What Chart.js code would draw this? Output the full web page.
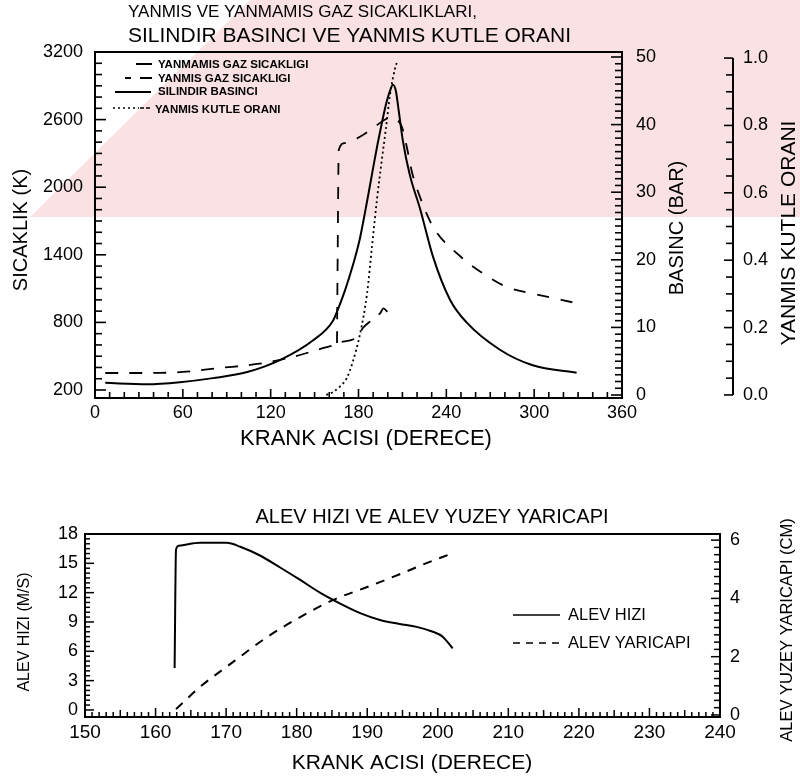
<!DOCTYPE html>
<html><head><meta charset="utf-8">
<script src="https://cdn.jsdelivr.net/npm/chart.js@4/dist/chart.umd.min.js"></script>
<style>
html,body{margin:0;padding:0;background:#fff;}
#top{position:absolute;left:0;top:0;width:800px;height:460px;}
#bot{position:absolute;left:0;top:460px;width:800px;height:321px;}
</style></head><body>
<div id="top"><canvas id="c1"></canvas></div>
<div id="bot"><canvas id="c2"></canvas></div>
<script>
// ---------- DATA (top chart) ----------
const crankUnburned = [7, 35.5, 60, 85, 111, 135, 156, 163, 165.3, 179, 183, 189, 195, 197, 200];
const tempUnburned  = [351, 351, 360, 395, 431, 493, 573, 599, 617, 670, 750, 820, 885, 925, 890];

const crankBurned = [165.3, 165.8, 166.5, 170.8, 183, 192.6, 201.5, 206, 209.7, 213, 216.5, 222, 231, 249.3, 267.7, 281.4, 300.5, 328.5];
const tempBurned  = [617, 1440, 2330, 2392, 2463, 2552, 2614, 2600, 2534, 2357, 2135, 1913, 1647, 1389, 1212, 1114, 1052, 972];

const crankPressure = [7, 35.5, 58, 80.6, 104, 126.6, 149, 162.6, 166, 170, 174.2, 178, 181, 184, 187, 190, 193, 196, 199, 201.5, 203.5, 205.5, 207.5, 210.4, 215, 222, 231, 242.5, 254, 276.6, 299, 329];
const pressureBar   = [1.8, 1.6, 1.9, 2.5, 3.4, 5.2, 8.1, 11.0, 12.7, 15.0, 17.8, 20.6, 23.2, 26.5, 30.0, 33.6, 37.1, 40.3, 43.2, 45.0, 45.9, 45.0, 42.0, 37.5, 32.6, 27.6, 20.4, 14.1, 10.7, 6.7, 4.4, 3.3];

const crankMassFrac = [158, 163, 167.3, 172, 176.2, 181, 185.8, 189.2, 192.6, 196, 198.7, 201.5, 205, 206.5];
const massFraction  = [0, 0.01, 0.025, 0.05, 0.10, 0.18, 0.30, 0.44, 0.58, 0.70, 0.79, 0.89, 0.97, 0.99];

const tempTicks = [200, 800, 1400, 2000, 2600, 3200];
const pressureTicks = [0, 10, 20, 30, 40, 50];
const massTicks = [0, 0.2, 0.4, 0.6, 0.8, 1.0];

// ---------- DATA (bottom chart) ----------
const crankSpeed = [162.7, 162.9, 163.3, 166.3, 170.1, 172, 174.8, 177.6, 180.5, 183.3, 186.1, 189, 191.8, 194.6, 197, 199.3, 200.7, 202.1];
const flameSpeed = [4.3, 16.4, 16.8, 17.1, 17.1, 16.7, 15.8, 14.6, 13.3, 12.0, 10.9, 9.9, 9.2, 8.8, 8.5, 8.0, 7.5, 6.3];
const crankRadius = [162.9, 166.3, 171, 175.8, 180.5, 185.1, 190, 194.6, 198.4, 202.1];
const flameRadius = [0.2, 0.96, 1.82, 2.67, 3.36, 3.94, 4.39, 4.83, 5.21, 5.55];

const speedTicks = [0, 3, 6, 9, 12, 15, 18];
const radiusTicks = [0, 2, 4, 6];

// ---------- helpers ----------
const FONT = '"Liberation Sans", Arial, Helvetica, sans-serif';
Chart.defaults.font.family = FONT;
Chart.defaults.color = '#000';
const pts = (xs, ys) => xs.map((x, i) => ({x: x, y: ys[i]}));
function txt(ctx, s, x, y, size, o) {
  o = o || {};
  ctx.save();
  ctx.font = (o.bold ? 'bold ' : '') + size + 'px ' + FONT;
  ctx.fillStyle = '#000';
  ctx.textAlign = o.align || 'center';
  ctx.textBaseline = 'middle';
  ctx.translate(x, y);
  if (o.rot) ctx.rotate(o.rot);
  ctx.fillText(s, 0, 0);
  ctx.restore();
}
function seg(ctx, x1, y1, x2, y2) { ctx.beginPath(); ctx.moveTo(x1, y1); ctx.lineTo(x2, y2); ctx.stroke(); }
const noGrid = {display: false, drawTicks: false, tickLength: 0};
const setTicks = vals => (scale) => { scale.ticks = vals.map(v => ({value: v})); };

// ---------- top chart ----------
const topDecor = {
  id: 'topDecor',
  beforeDraw(chart) {
    const ctx = chart.ctx;
    ctx.save();
    ctx.fillStyle = '#fae1e4';
    ctx.beginPath();
    ctx.moveTo(30, 217); ctx.lineTo(250, 0); ctx.lineTo(800, 0); ctx.lineTo(800, 217); ctx.closePath();
    ctx.fill();
    ctx.restore();
  },
  afterDraw(chart) {
    const ctx = chart.ctx, a = chart.chartArea, s = chart.scales;
    ctx.save();
    ctx.strokeStyle = '#000';
    ctx.setLineDash([]);
    ctx.lineWidth = 2;
    ctx.strokeRect(a.left, a.top, a.right - a.left, a.bottom - a.top);
    ctx.lineWidth = 1.6;
    for (let v = 0; v <= 360; v += 10) {
      const x = s.x.getPixelForValue(v);
      seg(ctx, x, a.bottom, x, a.bottom - (v % 60 === 0 ? 9 : 6));
    }
    for (let v = 200; v <= 3200; v += 100) {
      const y = s.y.getPixelForValue(v);
      seg(ctx, a.left, y, a.left + ((v - 200) % 600 === 0 ? 11 : 7), y);
    }
    for (let v = 0; v <= 50; v += 1) {
      const y = s.yP.getPixelForValue(v);
      seg(ctx, a.right, y, a.right - (v % 10 === 0 ? 11 : 7), y);
    }
    const xm = s.yM.left;
    ctx.lineWidth = 2;
    seg(ctx, xm, s.yM.getPixelForValue(0), xm, s.yM.getPixelForValue(1));
    ctx.lineWidth = 1.6;
    for (let i = 0; i <= 20; i++) {
      const y = s.yM.getPixelForValue(i * 0.05);
      seg(ctx, xm, y, xm - (i % 4 === 0 ? 9 : 7), y);
    }
    // titles
    txt(ctx, 'YANMIS VE YANMAMIS GAZ SICAKLIKLARI,', 128, 12, 17, {align: 'left'});
    txt(ctx, 'SILINDIR BASINCI VE YANMIS KUTLE ORANI', 128, 36, 21, {align: 'left'});
    txt(ctx, 'SICAKLIK (K)', 21, 230, 20, {rot: -Math.PI / 2});
    txt(ctx, 'KRANK ACISI (DERECE)', 366, 439, 22);
    txt(ctx, 'BASINC (BAR)', 677, 228, 20, {rot: -Math.PI / 2});
    txt(ctx, 'YANMIS KUTLE ORANI', 789, 233, 21, {rot: -Math.PI / 2});
    // legend
    ctx.lineWidth = 2;
    seg(ctx, 136, 64, 152, 64);
    seg(ctx, 125, 78, 131, 78); seg(ctx, 140, 78, 152, 78);
    seg(ctx, 115, 92, 151, 92);
    ctx.lineWidth = 1.6;
    ctx.setLineDash([2, 3]); seg(ctx, 113, 108, 139, 108);
    ctx.setLineDash([4, 2]); seg(ctx, 140, 108, 152, 108);
    ctx.setLineDash([]);
    txt(ctx, 'YANMAMIS GAZ SICAKLIGI', 158, 65, 11.5, {align: 'left', bold: true});
    txt(ctx, 'YANMIS GAZ SICAKLIGI', 158, 78.5, 11.5, {align: 'left', bold: true});
    txt(ctx, 'SILINDIR BASINCI', 158, 92, 11.5, {align: 'left', bold: true});
    txt(ctx, 'YANMIS KUTLE ORANI', 155, 110, 11.5, {align: 'left', bold: true});
    ctx.restore();
  }
};

new Chart(document.getElementById('c1'), {
  type: 'line',
  data: {
    datasets: [
      {label: 'YANMAMIS GAZ SICAKLIGI', data: pts(crankUnburned, tempUnburned), yAxisID: 'y',
       borderColor: '#000', borderWidth: 1.8, borderDash: [13, 11], pointRadius: 0, cubicInterpolationMode: 'monotone'},
      {label: 'YANMIS GAZ SICAKLIGI', data: pts(crankBurned, tempBurned), yAxisID: 'y',
       borderColor: '#000', borderWidth: 1.8, borderDash: [12, 12], pointRadius: 0, cubicInterpolationMode: 'monotone'},
      {label: 'SILINDIR BASINCI', data: pts(crankPressure, pressureBar), yAxisID: 'yP',
       borderColor: '#000', borderWidth: 2, pointRadius: 0, cubicInterpolationMode: 'monotone'},
      {label: 'YANMIS KUTLE ORANI', data: pts(crankMassFrac, massFraction), yAxisID: 'yM',
       borderColor: '#000', borderWidth: 1.8, borderDash: [2, 3], pointRadius: 0, cubicInterpolationMode: 'monotone'}
    ]
  },
  options: {
    responsive: true, maintainAspectRatio: false, animation: false, devicePixelRatio: 1,
    layout: {padding: {top: 52, left: 0, right: 0, bottom: 0}},
    plugins: {legend: {display: false}, tooltip: {enabled: false}},
    scales: {
      x: {type: 'linear', min: 0, max: 360, grid: noGrid, border: {display: false},
          ticks: {stepSize: 60, padding: 4, font: {size: 18}, color: '#000', maxRotation: 0},
          afterFit: s => { s.height = 62; }},
      y: {type: 'linear', position: 'left', min: 129, max: 3200, grid: noGrid, border: {display: false},
          afterBuildTicks: setTicks(tempTicks),
          ticks: {padding: 12, font: {size: 18}, color: '#000', callback: v => String(v)},
          afterFit: s => { s.width = 95; }},
      yP: {type: 'linear', position: 'right', weight: 0, min: -0.44, max: 50.74, grid: noGrid, border: {display: false},
          afterBuildTicks: setTicks(pressureTicks),
          ticks: {padding: 14, font: {size: 18}, color: '#000', callback: v => String(v)},
          afterFit: s => { s.width = 111; }},
      yM: {type: 'linear', position: 'right', weight: 1, min: -0.009, max: 1.018, grid: noGrid, border: {display: false},
          afterBuildTicks: setTicks(massTicks),
          ticks: {padding: 10, font: {size: 18}, color: '#000', callback: v => Number(v).toFixed(1)},
          afterFit: s => { s.width = 67; }}
    }
  },
  plugins: [topDecor]
});

// ---------- bottom chart ----------
const OY = 460;
const botDecor = {
  id: 'botDecor',
  afterDraw(chart) {
    const ctx = chart.ctx, a = chart.chartArea, s = chart.scales;
    ctx.save();
    ctx.strokeStyle = '#000';
    ctx.lineWidth = 2;
    ctx.strokeRect(a.left, a.top, a.right - a.left, a.bottom - a.top);
    ctx.lineWidth = 1.5;
    for (let v = 150; v <= 240; v += 1) {
      const x = s.x.getPixelForValue(v);
      const L = v % 10 === 0 ? 9 : (v % 5 === 0 ? 7 : 5);
      seg(ctx, x, a.bottom, x, a.bottom - L);
    }
    for (let i = 0; i <= 36; i++) {
      const v = i * 0.5, y = s.y.getPixelForValue(v);
      seg(ctx, a.left, y, a.left + (i % 6 === 0 ? 9 : 5), y);
    }
    for (let i = 0; i <= 24; i++) {
      const v = i * 0.25, y = s.yR.getPixelForValue(v);
      seg(ctx, a.right, y, a.right - (i % 8 === 0 ? 9 : 6), y);
    }
    txt(ctx, 'ALEV HIZI VE ALEV YUZEY YARICAPI', 432, 517 - OY, 20);
    txt(ctx, 'KRANK ACISI (DERECE)', 412, 763 - OY, 21);
    txt(ctx, 'ALEV HIZI (M/S)', 25, 632 - OY, 16, {rot: -Math.PI / 2});
    txt(ctx, 'ALEV YUZEY YARICAPI (CM)', 787, 630 - OY, 16.5, {rot: -Math.PI / 2});
    ctx.lineWidth = 1.6;
    seg(ctx, 513, 615 - OY, 560, 615 - OY);
    ctx.setLineDash([7, 6]);
    seg(ctx, 513, 643 - OY, 560, 643 - OY);
    ctx.setLineDash([]);
    txt(ctx, 'ALEV HIZI', 568, 615 - OY, 16.5, {align: 'left'});
    txt(ctx, 'ALEV YARICAPI', 568, 643 - OY, 16.5, {align: 'left'});
    ctx.restore();
  }
};

new Chart(document.getElementById('c2'), {
  type: 'line',
  data: {
    datasets: [
      {label: 'ALEV HIZI', data: pts(crankSpeed, flameSpeed), yAxisID: 'y',
       borderColor: '#000', borderWidth: 2, pointRadius: 0, cubicInterpolationMode: 'monotone'},
      {label: 'ALEV YARICAPI', data: pts(crankRadius, flameRadius), yAxisID: 'yR',
       borderColor: '#000', borderWidth: 2, borderDash: [9, 8], pointRadius: 0, cubicInterpolationMode: 'monotone'}
    ]
  },
  options: {
    responsive: true, maintainAspectRatio: false, animation: false, devicePixelRatio: 1,
    layout: {padding: {top: 74, left: 0, right: 0, bottom: 0}},
    plugins: {legend: {display: false}, tooltip: {enabled: false}},
    scales: {
      x: {type: 'linear', min: 150, max: 240, grid: noGrid, border: {display: false},
          ticks: {stepSize: 10, padding: 4, font: {size: 19}, color: '#000', maxRotation: 0},
          afterFit: s => { s.height = 64; }},
      y: {type: 'linear', position: 'left', min: -0.72, max: 18, grid: noGrid, border: {display: false},
          afterBuildTicks: setTicks(speedTicks),
          ticks: {padding: 7, font: {size: 18}, color: '#000', callback: v => String(v)},
          afterFit: s => { s.width = 85; }},
      yR: {type: 'linear', position: 'right', min: -0.07, max: 6.21, grid: noGrid, border: {display: false},
          afterBuildTicks: setTicks(radiusTicks),
          ticks: {padding: 10, font: {size: 18}, color: '#000', callback: v => String(v)},
          afterFit: s => { s.width = 80; }}
    }
  },
  plugins: [botDecor]
});
</script>
</body></html>
